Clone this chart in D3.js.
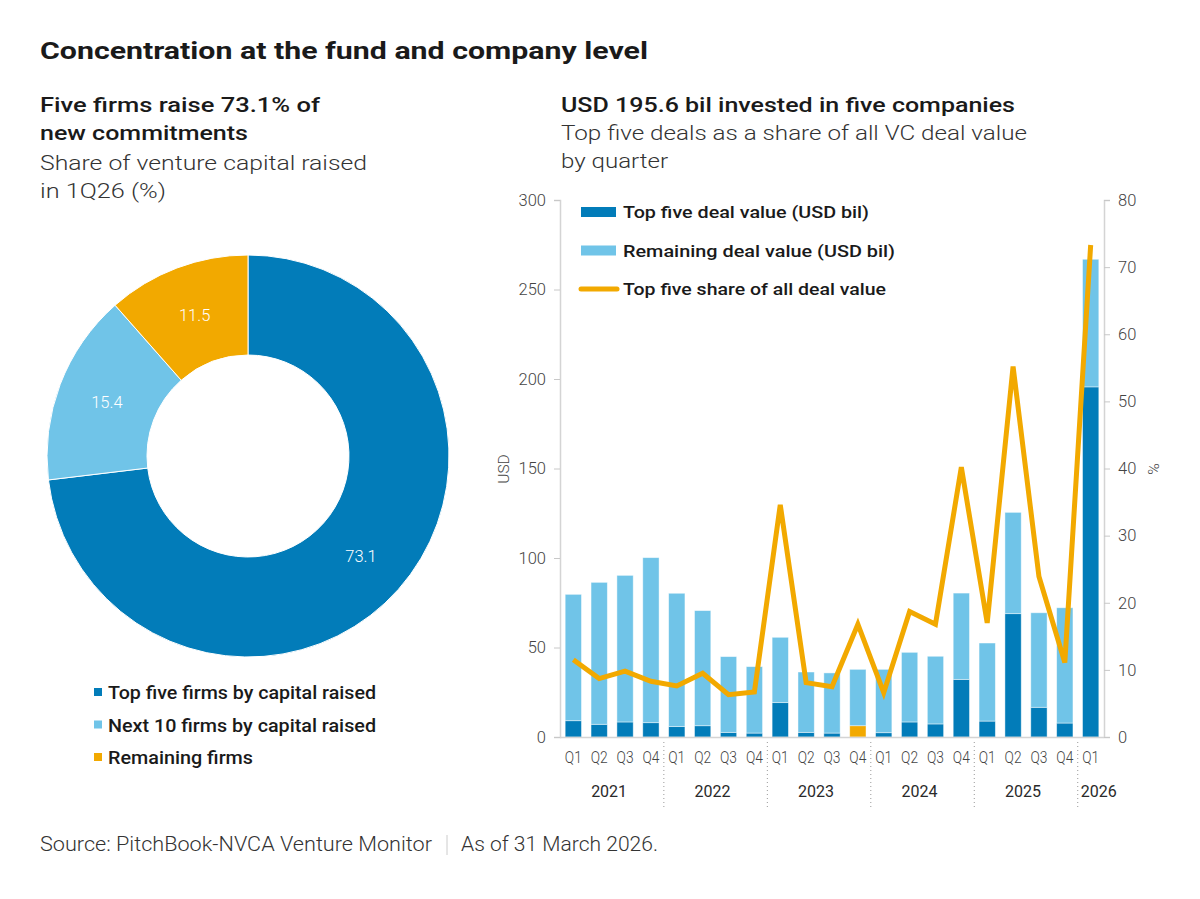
<!DOCTYPE html>
<html>
<head>
<meta charset="utf-8">
<script src="https://cdn.jsdelivr.net/npm/d3@7"></script>
<style>
  body { margin: 0; background: #fff; }
  text { font-family: Roboto, "Open Sans", sans-serif; }
</style>
</head>
<body>
<svg width="1200" height="899"></svg>
<script>
// donut: share of venture capital raised in 1Q26 (%)
const firmGroups = ["Top five firms by capital raised", "Next 10 firms by capital raised", "Remaining firms"];
const firmShares = [73.1, 15.4, 11.5];

// bars + line, by quarter
const years = ["2021", "2021", "2021", "2021", "2022", "2022", "2022", "2022", "2023", "2023", "2023", "2023",
  "2024", "2024", "2024", "2024", "2025", "2025", "2025", "2025", "2026"];
const quarters = ["Q1", "Q2", "Q3", "Q4", "Q1", "Q2", "Q3", "Q4", "Q1", "Q2", "Q3", "Q4",
  "Q1", "Q2", "Q3", "Q4", "Q1", "Q2", "Q3", "Q4", "Q1"];
const topFiveValue = [9.1, 7.1, 8.4, 8.0, 5.8, 6.3, 2.6, 2.2, 19.2, 2.6, 2.2, 6.3,
  2.4, 8.4, 7.3, 32.2, 8.9, 68.9, 16.6, 7.8, 195.6];
const remainingValue = [70.6, 79.3, 81.9, 92.2, 74.5, 64.3, 42.3, 37.1, 36.5, 33.7, 33.6, 31.5,
  35.4, 38.9, 37.8, 48.2, 43.6, 56.6, 52.8, 64.4, 71.3];
const topFiveShare = [11.5, 8.7, 9.8, 8.3, 7.6, 9.5, 6.3, 6.7, 34.6, 8.1, 7.5, 16.8,
  6.6, 18.7, 16.8, 40.2, 17.0, 55.2, 23.9, 11.1, 73.3];
const leftTicks = [0, 50, 100, 150, 200, 250, 300];
const rightTicks = [0, 10, 20, 30, 40, 50, 60, 70, 80];
const highlightQuarter = "2023 Q4";  // top five segment drawn in orange in the source

const darkBlue = "#027cb9", lightBlue = "#70c4e8", orange = "#f2a900";
const ink = "#1a1a1a", grey = "#444";

const svg = d3.select("svg");

// the source font is wider than Roboto, so stretch each line to its width
function label(x, y, txt, size, weight, color, w) {
  const t = svg.append("text").attr("x", x).attr("y", y)
    .attr("font-size", size).attr("font-weight", weight).attr("fill", color).text(txt);
  if (w) t.attr("textLength", w).attr("lengthAdjust", "spacingAndGlyphs");
  return t;
}

// ---- titles
label(40, 59, "Concentration at the fund and company level", 23, 700, ink, 608);
label(40, 112, "Five firms raise 73.1% of", 21, 500, ink, 280);
label(40, 140, "new commitments", 21, 500, ink, 208);
label(40, 170, "Share of venture capital raised", 21, 300, "#333", 327);
label(40, 198, "in 1Q26 (%)", 21, 300, "#333", 126);
label(561, 112, "USD 195.6 bil invested in five companies", 21, 500, ink, 454);
label(561, 140, "Top five deals as a share of all VC deal value", 21, 300, "#333", 466);
label(561, 168, "by quarter", 21, 300, "#333", 107);

// ---- donut
const colors = [darkBlue, lightBlue, orange];
const pie = d3.pie().sort(null).value(d => d);
const arc = d3.arc().innerRadius(101).outerRadius(201);
const labelArc = d3.arc().innerRadius(151).outerRadius(151);
const donut = svg.append("g").attr("transform", "translate(248,456)");
const slices = pie(firmShares);
donut.selectAll("path").data(slices).join("path")
  .attr("d", arc).attr("fill", (d, i) => colors[i])
  .attr("stroke", "#fff").attr("stroke-width", 1);
donut.selectAll("text").data(slices).join("text")
  .attr("transform", d => `translate(${labelArc.centroid(d)})`)
  .attr("text-anchor", "middle").attr("dy", "0.35em")
  .attr("font-size", 16.5).attr("font-weight", 300).attr("fill", "#fff")
  .text(d => d.data.toFixed(1));

const legendWidths = [268, 268, 145];
firmGroups.forEach((name, i) => {
  const y = 699 + i * 32.5;
  svg.append("rect").attr("x", 94).attr("y", y - 11).attr("width", 8).attr("height", 8).attr("fill", colors[i]);
  label(108, y, name, 18, 500, ink, legendWidths[i]);
});

// ---- bar + line chart
const keys = years.map((y, i) => y + " " + quarters[i]);
const x = d3.scaleBand().domain(keys).range([560, 1104]).paddingInner(0.37).paddingOuter(0.2);
const yL = d3.scaleLinear().domain([0, 300]).range([737, 200]);
const yR = d3.scaleLinear().domain([0, 80]).range([737, 200]);

const chart = svg.append("g");

// axes
const axL = chart.append("g").attr("transform", "translate(560,0)")
  .call(d3.axisLeft(yL).tickValues(leftTicks).tickSize(6).tickPadding(8));
const axR = chart.append("g").attr("transform", "translate(1104,0)")
  .call(d3.axisRight(yR).tickValues(rightTicks).tickSize(6).tickPadding(8));
[axL, axR].forEach(a => {
  a.select(".domain").attr("stroke", "#d4d4d4").attr("stroke-width", 1.5);
  a.selectAll(".tick line").attr("stroke", "#c8c8c8");
  a.selectAll(".tick text").attr("font-size", 16.5).attr("font-weight", 300).attr("fill", grey)
    .attr("font-family", "Roboto, sans-serif");
});

chart.append("text").attr("transform", "translate(509,469) rotate(-90)")
  .attr("text-anchor", "middle").attr("font-size", 15.5).attr("font-weight", 300).attr("fill", grey).text("USD");
chart.append("text").attr("transform", "translate(1148,469) rotate(90)")
  .attr("text-anchor", "middle").attr("font-size", 15.5).attr("font-weight", 300).attr("fill", grey).text("%");

// stacked bars
const rows = keys.map((k, i) => ({ key: k, top: topFiveValue[i], rest: remainingValue[i] }));
const stack = d3.stack().keys(["top", "rest"])(rows);
chart.append("g").selectAll("g").data(stack).join("g")
  .selectAll("rect").data(s => s.map(d => Object.assign(d, { layer: s.key }))).join("rect")
  .attr("x", d => x(d.data.key))
  .attr("width", x.bandwidth())
  .attr("y", d => yL(d[1]))
  .attr("height", d => yL(d[0]) - yL(d[1]))
  .attr("fill", d => d.layer === "rest" ? lightBlue : (d.data.key === highlightQuarter ? orange : darkBlue))
  .attr("stroke", "#fff").attr("stroke-opacity", 0.55).attr("stroke-width", 0.8);

// baseline
chart.append("line").attr("x1", 560).attr("x2", 1104).attr("y1", 737.5).attr("y2", 737.5)
  .attr("stroke", "#d4d4d4").attr("stroke-width", 1.5);

// share line
const line = d3.line().x((d, i) => x(keys[i]) + x.bandwidth() / 2).y(d => yR(d));
chart.append("path").datum(topFiveShare).attr("d", line)
  .attr("fill", "none").attr("stroke", orange).attr("stroke-width", 5).attr("stroke-linejoin", "miter");

// x labels
chart.append("g").selectAll("text").data(keys).join("text")
  .attr("x", d => x(d) + x.bandwidth() / 2).attr("y", 763)
  .attr("text-anchor", "middle").attr("font-size", 16).attr("font-weight", 300).attr("fill", grey)
  .attr("textLength", 17).attr("lengthAdjust", "spacingAndGlyphs")
  .text((d, i) => quarters[i]);

const yearList = Array.from(new Set(years));
yearList.forEach((yr, j) => {
  const ks = keys.filter((k, i) => years[i] === yr);
  const x0 = x(ks[0]), x1 = x(ks[ks.length - 1]) + x.bandwidth();
  chart.append("text").attr("x", (x0 + x1) / 2 + (ks.length === 1 ? 8 : -3)).attr("y", 797)
    .attr("text-anchor", "middle").attr("font-size", 16).attr("font-weight", 400).attr("fill", "#2a2a2a").text(yr);
  if (j > 0) {
    const bx = x0 - (x.step() - x.bandwidth()) / 2;
    chart.append("line").attr("x1", bx).attr("x2", bx).attr("y1", 742).attr("y2", 808)
      .attr("stroke", "#999").attr("stroke-dasharray", "1,3");
  }
});

// legend
const bLegend = [
  { name: "Top five deal value (USD bil)", color: darkBlue, type: "bar", w: 246 },
  { name: "Remaining deal value (USD bil)", color: lightBlue, type: "bar", w: 272 },
  { name: "Top five share of all deal value", color: orange, type: "line", w: 263 }
];
bLegend.forEach((d, i) => {
  const cy = 212 + i * 38.5;
  if (d.type === "bar") {
    chart.append("rect").attr("x", 581).attr("y", cy - 5).attr("width", 35).attr("height", 10).attr("fill", d.color);
  } else {
    chart.append("line").attr("x1", 581).attr("x2", 617).attr("y1", cy).attr("y2", cy)
      .attr("stroke", d.color).attr("stroke-width", 5).attr("stroke-linecap", "round");
  }
  label(623, cy + 6, d.name, 17, 500, ink, d.w);
});

// ---- footer
label(40, 851, "Source: PitchBook-NVCA Venture Monitor", 19.5, 300, "#333", 392);
svg.append("line").attr("x1", 447).attr("x2", 447).attr("y1", 835).attr("y2", 855).attr("stroke", "#ccc");
label(461, 851, "As of 31 March 2026.", 19.5, 300, "#333", 197);
</script>
</body>
</html>
